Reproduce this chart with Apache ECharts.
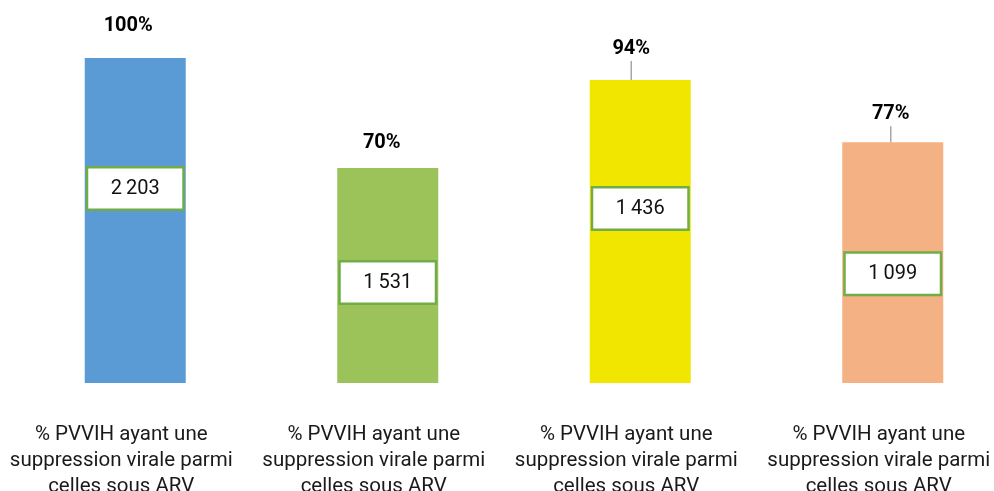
<!DOCTYPE html>
<html>
<head>
<meta charset="UTF-8">
<title>Suppression virale</title>
<script src="https://cdn.jsdelivr.net/npm/echarts@6/dist/echarts.min.js"></script>
<style>
  html, body { margin: 0; padding: 0; background: #fff; }
  #main { width: 994px; height: 491px; }
</style>
</head>
<body>
<div id="main"></div>
<script type="text/javascript">
// donnees
var categories = [
  '% PVVIH ayant une\nsuppression virale parmi\ncelles sous ARV',
  '% PVVIH ayant une\nsuppression virale parmi\ncelles sous ARV',
  '% PVVIH ayant une\nsuppression virale parmi\ncelles sous ARV',
  '% PVVIH ayant une\nsuppression virale parmi\ncelles sous ARV'
];
var percents = [100, 70, 94, 77];
var counts = [2203, 1531, 1436, 1099];
var barColors = ['#5B9BD5', '#9BC35A', '#F1E600', '#F4B183'];

// reglages des etiquettes (deplacements a la main comme dans l'original)
var countDy = [-32, 7, -23, 11];
var pctDx = [-7, -6, -9, -2];
var pctDy = [-20, -13, -19, -16];

function fmt(n) {
  return String(n).replace(/\B(?=(\d{3})+(?!\d))/g, '\u2009');
}

var myChart = echarts.init(document.getElementById('main'));

var option = {
  animation: false,
  grid: { left: 9, width: 1010, top: 58, bottom: 108, outerBoundsMode: 'none', containLabel: false },
  xAxis: {
    type: 'category',
    data: categories,
    axisLine: { show: false },
    axisTick: { show: false },
    axisLabel: {
      interval: 0,
      margin: 39,
      color: '#1a1a1a',
      fontFamily: 'Roboto, sans-serif',
      fontSize: 20.5,
      lineHeight: 26,
      align: 'center',
      padding: [0, 28, 0, 0]
    }
  },
  yAxis: {
    type: 'value',
    min: 11.4,
    max: 100,
    show: false,
    splitLine: { show: false }
  },
  series: [
    {
      type: 'bar',
      barWidth: 101,
      data: percents.map(function (v, i) {
        return {
          value: v,
          itemStyle: { color: barColors[i] },
          label: { offset: [0, countDy[i]] }
        };
      }),
      label: {
        show: true,
        position: 'inside',
        formatter: function (p) { return fmt(counts[p.dataIndex]); },
        color: '#111',
        fontFamily: 'Roboto, sans-serif',
        fontSize: 20,
        backgroundColor: '#fff',
        borderColor: '#70AD47',
        borderWidth: 2.5,
        width: 94,
        height: 40,
        lineHeight: 40,
        align: 'center',
        verticalAlign: 'middle',
        padding: 0
      }
    },
    {
      type: 'bar',
      barWidth: 101,
      barGap: '-100%',
      silent: true,
      z: 5,
      itemStyle: { color: 'transparent' },
      data: percents.map(function (v, i) {
        return { value: v, labelLine: { show: i >= 2 } };
      }),
      label: {
        show: true,
        position: 'top',
        distance: 0,
        formatter: '{c}%',
        color: '#000',
        fontFamily: 'Roboto, sans-serif',
        fontWeight: 'bold',
        fontSize: 20,
        lineHeight: 24
      },
      labelLine: {
        show: false,
        lineStyle: { color: '#A6A6A6', width: 1.5 }
      },
      labelLayout: function (params) {
        return { dx: pctDx[params.dataIndex], dy: pctDy[params.dataIndex] };
      }
    }
  ]
};

myChart.setOption(option);
</script>
</body>
</html>
